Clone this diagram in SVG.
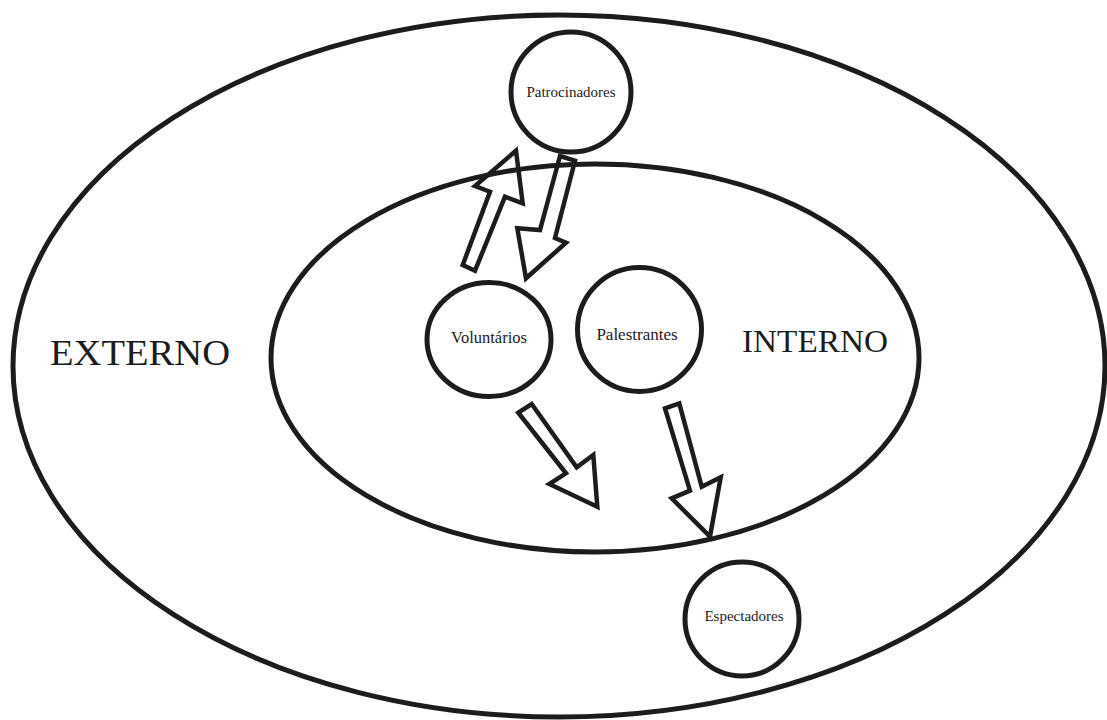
<svg xmlns="http://www.w3.org/2000/svg" width="1107" height="720" viewBox="0 0 1107 720">
  <style>
    .ring { fill: none; stroke: #1c1c1c; stroke-width: 5; }
    .node { fill: #ffffff; stroke: #1c1c1c; stroke-width: 5; }
    .arrow { fill: #ffffff; stroke: #1c1c1c; stroke-width: 4.5; stroke-linejoin: miter; }
    text { font-family: 'Liberation Serif', 'DejaVu Serif', serif; fill: #1c1c1c; }
    .lbl { text-anchor: middle; }
  </style>
  <rect width="1107" height="720" fill="#ffffff"/>

  <!-- block-arrow connectors -->
  <g id="connectors">
    <polygon class="arrow" points="462.7,265 475,270.7 505,196.7 522.7,203.3 516,150.7 475,186 490,191.7"/>
    <polygon class="arrow" points="560,156 575,160.7 555,238 566,242.7 526,278.3 517.3,228.3 540,230"/>
    <polygon class="arrow" points="518.3,412.7 531.7,404 576.7,467.3 593.3,455 597.3,506.7 549.3,484 566,473.3"/>
    <polygon class="arrow" points="665,408.3 679.3,403.3 701.7,486.7 720.7,477.3 710,536.7 671.7,498.3 690,490.7"/>
  </g>

  <!-- boundary zones (outlines drawn over the arrows) -->
  <g id="zone-externo">
    <ellipse class="ring" cx="559" cy="366" rx="546" ry="351"/>
    <text x="50" y="365" font-size="35" textLength="180" lengthAdjust="spacingAndGlyphs">EXTERNO</text>
  </g>
  <g id="zone-interno">
    <ellipse class="ring" cx="595" cy="358" rx="324" ry="194"/>
    <text x="742" y="352" font-size="31" textLength="146" lengthAdjust="spacingAndGlyphs">INTERNO</text>
  </g>

  <!-- stakeholder nodes -->
  <g id="node-patrocinadores">
    <circle class="node" cx="571" cy="92" r="60"/>
    <text class="lbl" x="571" y="97" font-size="15">Patrocinadores</text>
  </g>
  <g id="node-voluntarios">
    <ellipse class="node" cx="489" cy="339.5" rx="62" ry="57"/>
    <text class="lbl" x="489" y="343" font-size="16.5">Voluntários</text>
  </g>
  <g id="node-palestrantes">
    <circle class="node" cx="639.5" cy="329.5" r="62"/>
    <text class="lbl" x="637" y="340" font-size="17">Palestrantes</text>
  </g>
  <g id="node-espectadores">
    <circle class="node" cx="742" cy="619" r="57"/>
    <text class="lbl" x="744" y="621" font-size="15">Espectadores</text>
  </g>
</svg>
